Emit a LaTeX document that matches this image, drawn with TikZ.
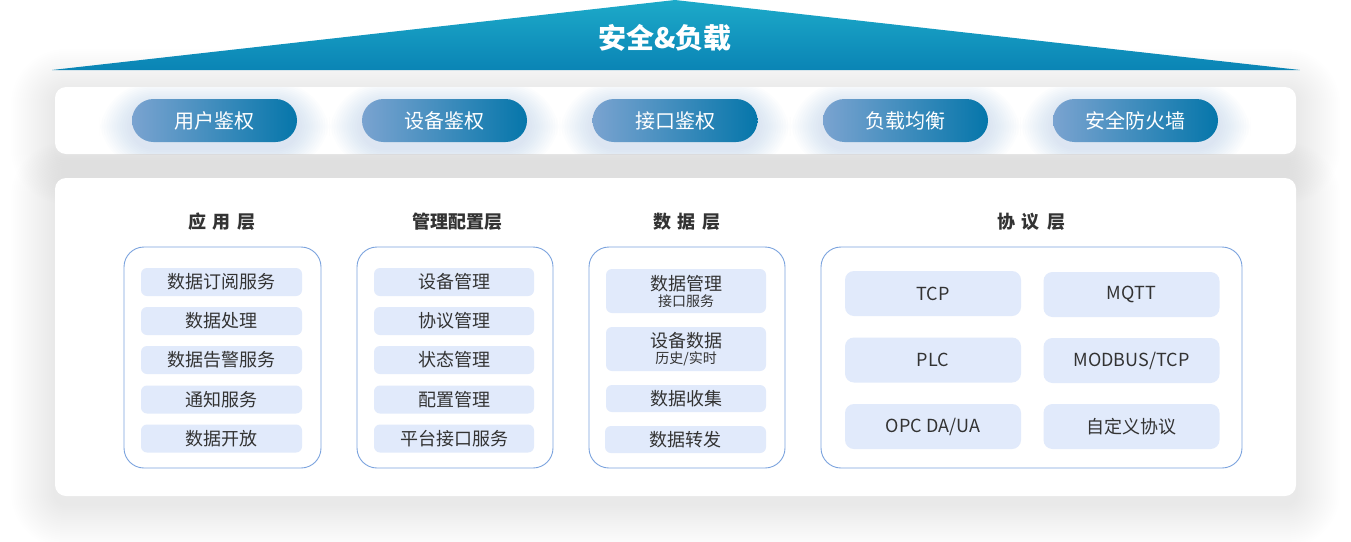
\documentclass[tikz,border=0pt]{standalone}
\usepackage{fontspec}
\setmainfont{Noto Sans CJK SC}
\definecolor{txt}{HTML}{333333}
\definecolor{itemfill}{HTML}{E1EAFB}
\definecolor{grpline}{HTML}{7BA3DE}
\definecolor{pillL}{HTML}{7AA3D0}
\definecolor{pillR}{HTML}{0576AA}
\definecolor{triT}{HTML}{1DAAC9}
\definecolor{triB}{HTML}{0A84B5}
\definecolor{glow}{HTML}{8FAEDD}
\newcommand\hsp{\hspace{7pt}}
\begin{document}
\begin{tikzpicture}[x=1pt,y=-1pt,
  panel/.style={fill=white, rounded corners=11pt, inner sep=0pt},
  grp/.style={draw=grpline, line width=0.9pt, fill=white, rounded corners=20pt, inner sep=0pt},
  item/.style={fill=itemfill, rounded corners=6pt, text=txt, font=\fontsize{18}{20}\selectfont, inner sep=0pt, align=center},
  pill/.style={rounded corners=21.5pt, left color=pillL, right color=pillR, text=white, font=\fontsize{20}{22}\selectfont, minimum width=165pt, minimum height=43pt, inner sep=0pt},
  hdr/.style={text=txt, font=\bfseries\fontsize{18}{20}\selectfont, inner sep=0pt},
]
\useasboundingbox (0,0) rectangle (1351,541);
\fill[white] (0,0) rectangle (1351,541);

% soft shadows of the panels
\foreach \i in {1,...,22}{
  \pgfmathsetmacro\e{2*\i}
  \pgfmathsetmacro\r{11+\e}
  \fill[black, opacity=0.0045, rounded corners=\r pt] (55-\e,87-\e+6) rectangle (1296+\e,154+\e+6);
  \fill[black, opacity=0.0045, rounded corners=\r pt] (55-\e,178-\e+8) rectangle (1296+\e,496+\e+8);
}

% triangle
\shade[top color=triT, bottom color=triB] (52,70) -- (675,0) -- (1300,70) -- cycle;
\node[text=white, font=\bfseries\fontsize{28}{30}\selectfont, inner sep=0pt] (title) at (665,38) {安全\&负载};

% panels
\node[panel, minimum width=1241pt, minimum height=67pt] (toppanel) at (675.5,120.5) {};
\node[panel, minimum width=1241pt, minimum height=318pt] (botpanel) at (675.5,337) {};

% pill glows
\begin{scope}
\clip[rounded corners=11pt] (55,87) rectangle (1296,154);
\foreach \cx in {214.5,444.5,675,905.5,1135.5}{
  \foreach \i in {1,...,13}{
    \pgfmathsetmacro\e{2.5*\i}
    \pgfmathsetmacro\r{21.5+\e}
    \fill[glow, opacity=0.022, rounded corners=\r pt] (\cx-82.5-\e,99-\e*0.7+6) rectangle (\cx+82.5+\e,142+\e*0.7+6);
  }
}
\end{scope}

% pills
\node[pill] (p1) at (214.5,120.5) {用户鉴权};
\node[pill] (p2) at (444.5,120.5) {设备鉴权};
\node[pill] (p3) at (675,120.5) {接口鉴权};
\node[pill] (p4) at (905.5,120.5) {负载均衡};
\node[pill] (p5) at (1135.5,120.5) {安全防火墙};

% headers
\node[hdr] (h1) at (222,222) {应\hsp 用\hsp 层};
\node[hdr] (h2) at (457,222) {管理配置层};
\node[hdr] (h3) at (687,222) {数\hsp 据\hsp 层};
\node[hdr] (h4) at (1031,222) {协\hsp 议\hsp 层};

% group boxes
\node[grp, minimum width=197pt, minimum height=221pt] (g1) at (222.5,357.5) {};
\node[grp, minimum width=196pt, minimum height=221pt] (g2) at (455,357.5) {};
\node[grp, minimum width=196pt, minimum height=221pt] (g3) at (687,357.5) {};
\node[grp, minimum width=421pt, minimum height=221pt] (g4) at (1031.5,357.5) {};

% group 1
\begin{scope}[every node/.append style={item, minimum width=161pt, minimum height=28pt}]
\node (a1) at (221.5,282) {数据订阅服务};
\node (a2) at (221.5,321) {数据处理};
\node (a3) at (221.5,360) {数据告警服务};
\node (a4) at (221.5,399.5) {通知服务};
\node (a5) at (221.5,438.5) {数据开放};
\end{scope}

% group 2
\begin{scope}[every node/.append style={item, minimum width=160pt, minimum height=28pt}]
\node (b1) at (454,282) {设备管理};
\node (b2) at (454,321) {协议管理};
\node (b3) at (454,360) {状态管理};
\node (b4) at (454,399.5) {配置管理};
\node (b5) at (454,438.5) {平台接口服务};
\end{scope}

% group 3
\begin{scope}[every node/.append style={item, minimum width=160pt}]
\node[minimum height=44pt] (c1) at (686,291) {数据管理\\[-4pt]{\fontsize{14}{16}\selectfont 接口服务}};
\node[minimum height=44pt] (c2) at (686,349) {设备数据\\[-4pt]{\fontsize{14}{16}\selectfont 历史/实时}};
\node[minimum height=27pt] (c3) at (686,398.5) {数据收集};
\node[minimum height=27pt, minimum width=161pt] (c4) at (685.5,439.5) {数据转发};
\end{scope}

% group 4
\begin{scope}[every node/.append style={item, minimum width=176pt, minimum height=45pt, rounded corners=9pt}]
\node (d1) at (933,293.5) {TCP};
\node (d2) at (1131.5,294.5) {MQTT};
\node (d3) at (933,360) {PLC};
\node (d4) at (1131.5,360.5) {MODBUS/TCP};
\node (d5) at (933,426.5) {OPC DA/UA};
\node (d6) at (1131.5,426.5) {自定义协议};
\end{scope}
\end{tikzpicture}
\end{document}
